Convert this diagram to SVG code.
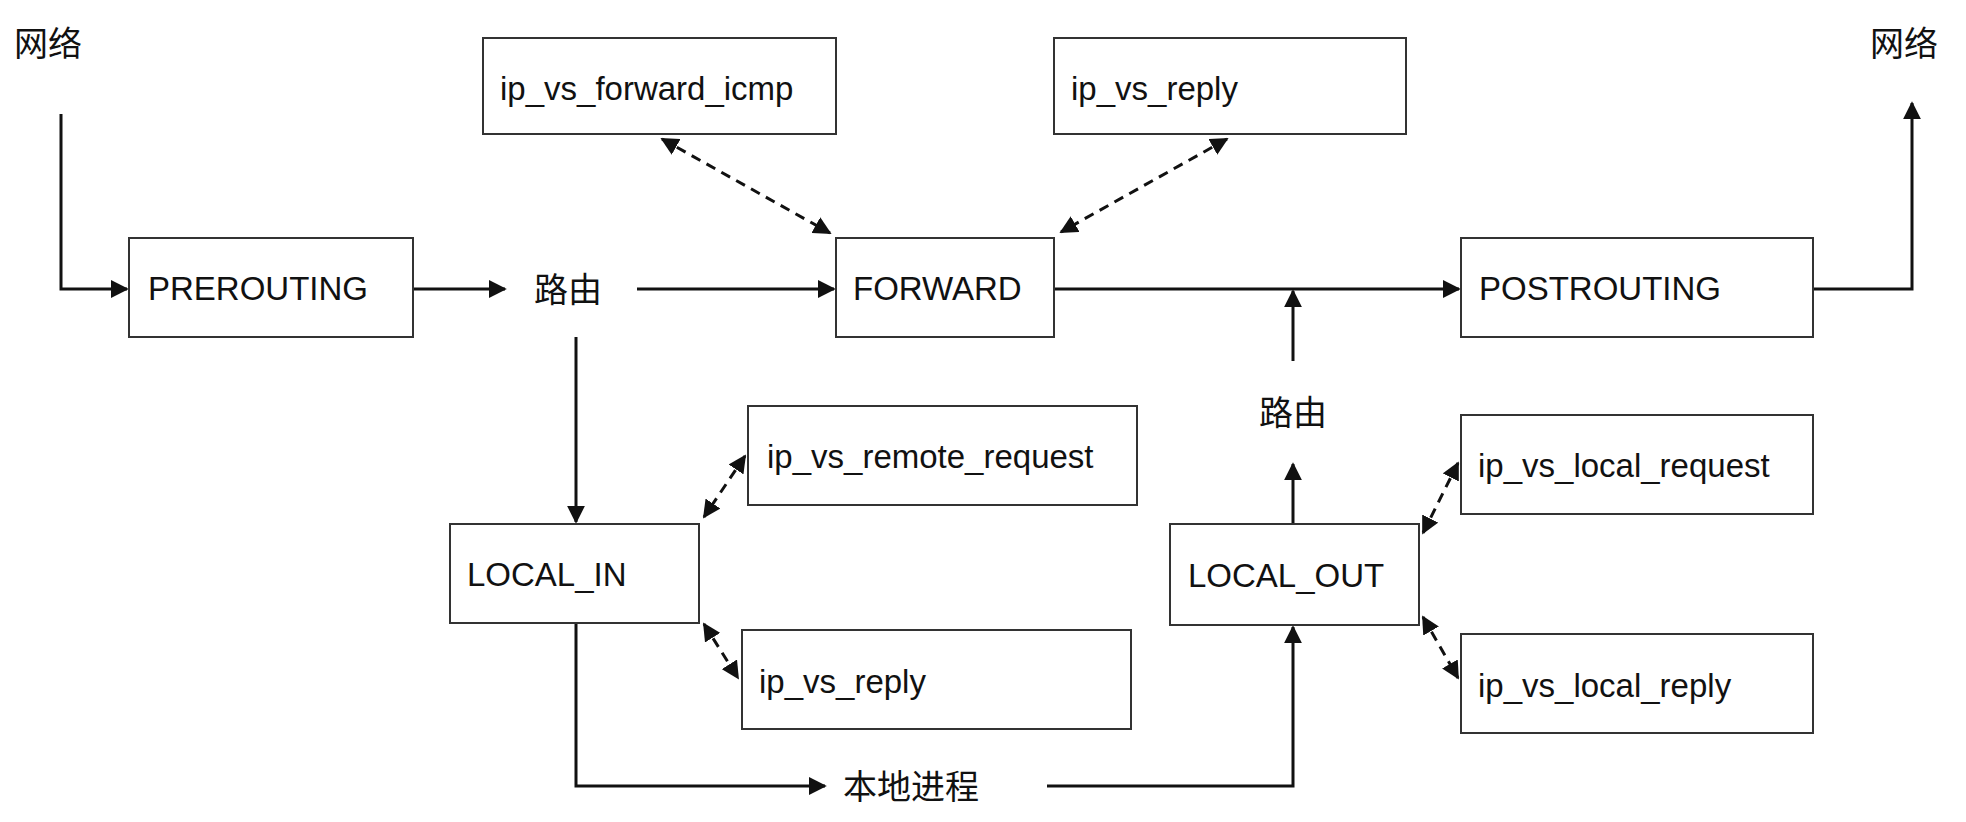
<svg xmlns="http://www.w3.org/2000/svg" width="1966" height="822" viewBox="0 0 1966 822">
<style>
.b{fill:#fff;stroke:#333;stroke-width:2}
.t{font-family:"Liberation Sans","Noto Sans CJK SC",sans-serif;font-size:33px;fill:#111}
.z{font-family:"Noto Sans CJK SC",sans-serif;font-size:34px;fill:#111}
.l{fill:none;stroke:#111;stroke-width:3}
.d{fill:none;stroke:#111;stroke-width:3;stroke-dasharray:10,7}
</style>
<defs>
<marker id="a" viewBox="0 0 10 10" refX="9" refY="5" markerWidth="6" markerHeight="6" orient="auto-start-reverse"><path d="M0,0L10,5L0,10z" fill="#111"/></marker>
</defs>
<rect width="1966" height="822" fill="#fff"/>
<text class="z" x="14" y="56">网络</text>
<text class="z" x="1870" y="56">网络</text>
<text class="z" x="534" y="302">路由</text>
<text class="z" x="1259" y="425">路由</text>
<text class="z" x="843" y="799">本地进程</text>
<g id="connectors">
<path class="l" d="M61,114V289H127" marker-end="url(#a)"/>
<path class="l" d="M413,289H505" marker-end="url(#a)"/>
<path class="l" d="M637,289H834" marker-end="url(#a)"/>
<path class="l" d="M1054,289H1459" marker-end="url(#a)"/>
<path class="l" d="M1293,361V291" marker-end="url(#a)"/>
<path class="l" d="M1813,289H1912V103" marker-end="url(#a)"/>
<path class="l" d="M576,337V522" marker-end="url(#a)"/>
<path class="l" d="M576,623V786H825" marker-end="url(#a)"/>
<path class="l" d="M1047,786H1293V627" marker-end="url(#a)"/>
<path class="l" d="M1293,524V464" marker-end="url(#a)"/>
<path class="d" d="M662,139L830,233" marker-start="url(#a)" marker-end="url(#a)"/>
<path class="d" d="M1227,139L1061,232" marker-start="url(#a)" marker-end="url(#a)"/>
<path class="d" d="M745,456L704,517" marker-start="url(#a)" marker-end="url(#a)"/>
<path class="d" d="M704,624L738,678" marker-start="url(#a)" marker-end="url(#a)"/>
<path class="d" d="M1458,463L1423,533" marker-start="url(#a)" marker-end="url(#a)"/>
<path class="d" d="M1423,617L1458,678" marker-start="url(#a)" marker-end="url(#a)"/>
</g>
<g id="prerouting"><rect class="b" x="129" y="238" width="284" height="99"/><text class="t" x="148" y="300">PREROUTING</text></g>
<g id="forward"><rect class="b" x="836" y="238" width="218" height="99"/><text class="t" x="853" y="300">FORWARD</text></g>
<g id="postrouting"><rect class="b" x="1461" y="238" width="352" height="99"/><text class="t" x="1479" y="300">POSTROUTING</text></g>
<g id="fwd_icmp"><rect class="b" x="483" y="38" width="353" height="96"/><text class="t" x="500" y="100">ip_vs_forward_icmp</text></g>
<g id="reply_top"><rect class="b" x="1054" y="38" width="352" height="96"/><text class="t" x="1071" y="100">ip_vs_reply</text></g>
<g id="local_in"><rect class="b" x="450" y="524" width="249" height="99"/><text class="t" x="467" y="586">LOCAL_IN</text></g>
<g id="remote_req"><rect class="b" x="748" y="406" width="389" height="99"/><text class="t" x="767" y="468">ip_vs_remote_request</text></g>
<g id="reply_low"><rect class="b" x="742" y="630" width="389" height="99"/><text class="t" x="759" y="693">ip_vs_reply</text></g>
<g id="local_out"><rect class="b" x="1170" y="524" width="249" height="101"/><text class="t" x="1188" y="587">LOCAL_OUT</text></g>
<g id="local_req"><rect class="b" x="1461" y="415" width="352" height="99"/><text class="t" x="1478" y="477">ip_vs_local_request</text></g>
<g id="local_reply"><rect class="b" x="1461" y="634" width="352" height="99"/><text class="t" x="1478" y="697">ip_vs_local_reply</text></g>
</svg>
